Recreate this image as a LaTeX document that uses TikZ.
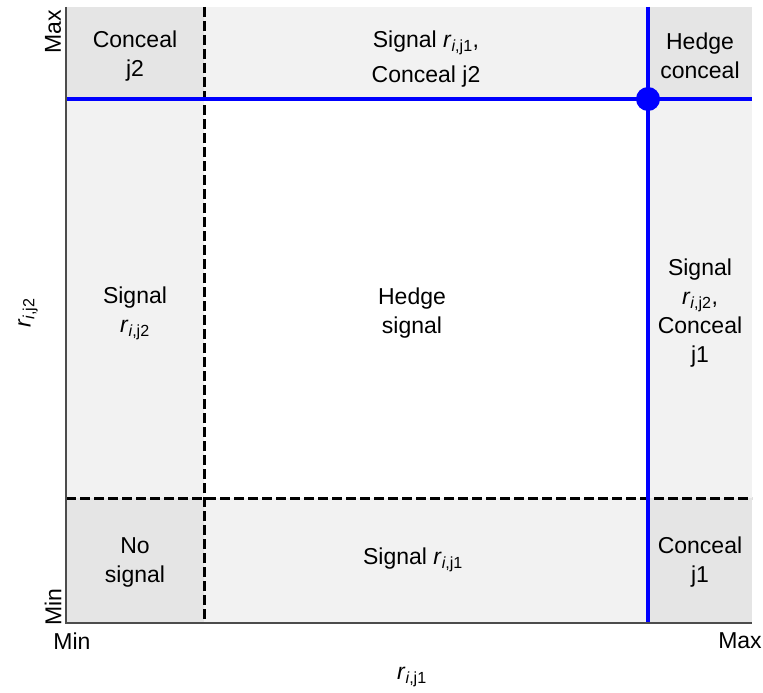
\documentclass[tikz,border=0pt]{standalone}
\usepackage{fontspec}
\setmainfont{Liberation Sans}
\newcommand{\rsub}[1]{\textit{r}\textsubscript{\textit{i},j#1}}
\begin{document}
\begin{tikzpicture}[x=1pt,y=-1pt,
  lbl/.style={align=center,font=\fontsize{23}{29}\selectfont,inner sep=0pt},
  darkcell/.style={fill=black!10,draw=none},
  lightcell/.style={fill=black!5,draw=none},
  bluel/.style={draw=blue,line width=3.2pt},
  dashl/.style={draw=black,line width=3pt,dash pattern=on 10pt off 4pt},
  axisl/.style={draw=black!70,line width=1.2pt}]
\useasboundingbox (0,0) rectangle (763,693);
% cells
\fill[darkcell] (66,7) rectangle (204,99);
\fill[lightcell] (204,7) rectangle (648,99);
\fill[darkcell] (648,7) rectangle (752,99);
\fill[lightcell] (66,99) rectangle (204,498);
\fill[white] (204,99) rectangle (648,498);
\fill[lightcell] (648,99) rectangle (752,498);
\fill[darkcell] (66,498) rectangle (204,623);
\fill[lightcell] (204,498) rectangle (648,623);
\fill[darkcell] (648,498) rectangle (752,623);
% coordinates
\coordinate (dvT) at (204,7);
\coordinate (dvB) at (204,623);
\coordinate (dhL) at (66,498);
\coordinate (dhR) at (752,498);
\coordinate (bvT) at (648,7);
\coordinate (bvB) at (648,623);
\coordinate (bhL) at (66,99);
\coordinate (bhR) at (752,99);
\coordinate (axT) at (66,7);
\coordinate (axO) at (66,623);
\coordinate (axR) at (752,623);
% lines
\draw[dashl] (dvT) -- (dvB);
\draw[dashl] (dhL) -- (dhR);
\draw[bluel] (bvT) -- (bvB);
\draw[bluel] (bhL) -- (bhR);
\draw[axisl] (axT) -- (axO) -- (axR);
\node[circle,fill=blue,minimum size=24pt,inner sep=0pt] (dot) at (648,99) {};
% labels
\node[lbl] (c1) at (135,56) {Conceal\\j2};
\node[lbl] (c2) at (426,59) {Signal \rsub{1},\\[6pt]Conceal j2};
\node[lbl] (c3) at (700,56) {Hedge\\conceal};
\node[lbl] (c4) at (135,313) {Signal\\\rsub{2}};
\node[lbl] (c5) at (412,313) {Hedge\\signal};
\node[lbl] (c6) at (700,313) {Signal\\\rsub{2},\\Conceal\\j1};
\node[lbl] (c7) at (135,562) {No\\signal};
\node[lbl] (c8) at (413,560) {Signal \rsub{1}};
\node[lbl] (c9) at (700,562) {Conceal\\j1};
% axes
\node[lbl] (xmin) at (72,641) {Min};
\node[lbl] (xmax) at (740,641) {Max};
\node[lbl] (xlab) at (412,677) {\rsub{1}};
\node[lbl,rotate=90] (ymax) at (53,32) {Max};
\node[lbl,rotate=90] (ymin) at (53,607) {Min};
\node[lbl,rotate=90] (ylab) at (28,313) {\rsub{2}};
\end{tikzpicture}
\end{document}
